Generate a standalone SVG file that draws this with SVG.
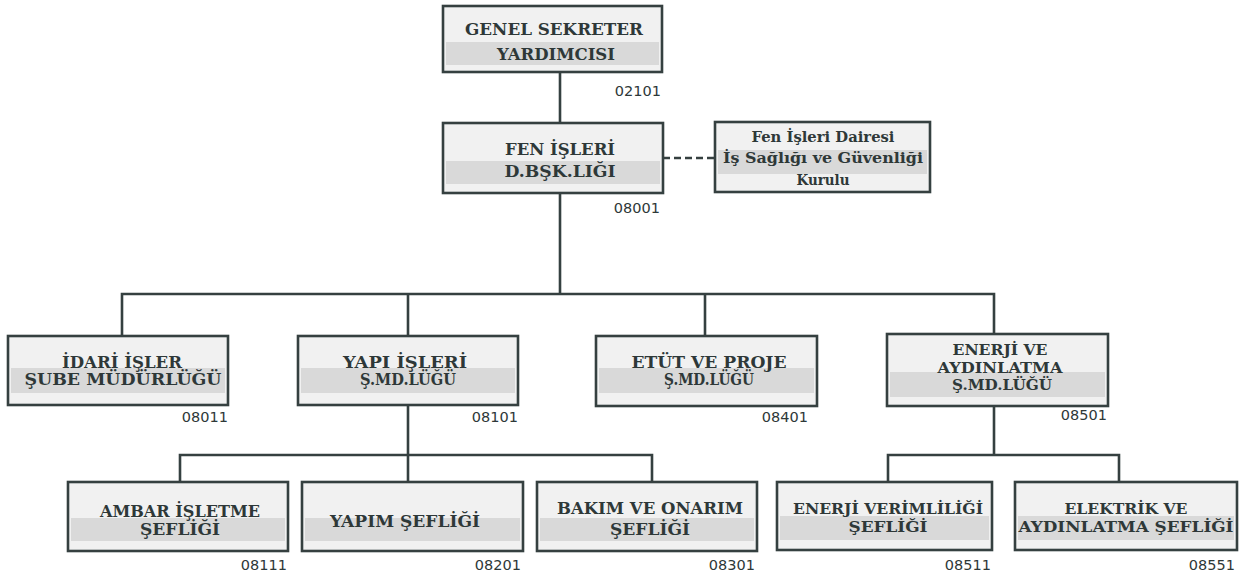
<svg xmlns="http://www.w3.org/2000/svg" width="1244" height="577" viewBox="0 0 1244 577">
<style>
.box{fill:#f1f1f1;stroke:#354040;stroke-width:2.6}
.band{fill:#d9d9d9}
.t{font-family:"DejaVu Serif","Liberation Serif",serif;font-weight:bold;font-size:16px;fill:#2e3838;text-anchor:middle}
.ts{font-family:"DejaVu Serif","Liberation Serif",serif;font-weight:bold;font-size:14.5px;fill:#2e3838;text-anchor:middle}
.code{font-family:"DejaVu Sans","Liberation Sans",sans-serif;font-size:14.5px;fill:#2e3838;text-anchor:end}
.ln{fill:none;stroke:#354040;stroke-width:2.6}
.dash{fill:none;stroke:#354040;stroke-width:2.6;stroke-dasharray:7,4}
</style>
<rect width="1244" height="577" fill="#ffffff"/>
<g id="connectors">
<path class="ln" d="M560 72 V123"/>
<path class="ln" d="M560 193 V294"/>
<path class="dash" d="M663 158 H715"/>
<path class="ln" d="M122 336 V294 H994 V334"/>
<path class="ln" d="M408 294 V336"/>
<path class="ln" d="M705 294 V336"/>
<path class="ln" d="M408 405 V482"/>
<path class="ln" d="M180 482 V455 H652 V482"/>
<path class="ln" d="M994 406 V455"/>
<path class="ln" d="M888 482 V455 H1119 V482"/>
</g>
<g id="n02101">
<rect class="box" x="443" y="6" width="219" height="66"/>
<rect class="band" x="446" y="42" width="213" height="23"/>
<text class="t" x="554" y="35" textLength="178" lengthAdjust="spacingAndGlyphs">GENEL SEKRETER</text>
<text class="t" x="556" y="60" textLength="118" lengthAdjust="spacingAndGlyphs">YARDIMCISI</text>
<text class="code" x="661" y="96">02101</text>
</g>
<g id="n08001">
<rect class="box" x="443" y="123" width="220" height="70"/>
<rect class="band" x="446" y="161" width="214" height="23"/>
<text class="t" x="560" y="155" textLength="110" lengthAdjust="spacingAndGlyphs">FEN İŞLERİ</text>
<text class="t" x="560" y="177" textLength="111" lengthAdjust="spacingAndGlyphs">D.BŞK.LIĞI</text>
<text class="code" x="660" y="213">08001</text>
</g>
<g id="kurul">
<rect class="box" x="715" y="122" width="215" height="70"/>
<rect class="band" x="718" y="150" width="209" height="24"/>
<text class="ts" x="823" y="142" textLength="143" lengthAdjust="spacingAndGlyphs">Fen İşleri Dairesi</text>
<text class="ts" x="823" y="163" textLength="200" lengthAdjust="spacingAndGlyphs">İş Sağlığı ve Güvenliği</text>
<text class="ts" x="823" y="185" textLength="53" lengthAdjust="spacingAndGlyphs">Kurulu</text>
</g>
<g id="n08011">
<rect class="box" x="8" y="336" width="220" height="69"/>
<rect class="band" x="11" y="368" width="214" height="25"/>
<text class="t" x="122" y="368" textLength="120" lengthAdjust="spacingAndGlyphs">İDARİ İŞLER</text>
<text class="t" x="123" y="385" textLength="197" lengthAdjust="spacingAndGlyphs">ŞUBE MÜDÜRLÜĞÜ</text>
<text class="code" x="228" y="422">08011</text>
</g>
<g id="n08101">
<rect class="box" x="298" y="336" width="220" height="69"/>
<rect class="band" x="301" y="368" width="214" height="25"/>
<text class="t" x="405" y="368" textLength="124" lengthAdjust="spacingAndGlyphs">YAPI İŞLERİ</text>
<text class="t" x="408" y="385" textLength="96" lengthAdjust="spacingAndGlyphs">Ş.MD.LÜĞÜ</text>
<text class="code" x="518" y="422">08101</text>
</g>
<g id="n08401">
<rect class="box" x="596" y="336" width="221" height="70"/>
<rect class="band" x="599" y="368" width="215" height="25"/>
<text class="t" x="709" y="368" textLength="155" lengthAdjust="spacingAndGlyphs">ETÜT VE PROJE</text>
<text class="t" x="709" y="385" textLength="90" lengthAdjust="spacingAndGlyphs">Ş.MD.LÜĞÜ</text>
<text class="code" x="808" y="422">08401</text>
</g>
<g id="n08501">
<rect class="box" x="887" y="334" width="221" height="72"/>
<rect class="band" x="890" y="372" width="215" height="25"/>
<text class="ts" x="1000" y="355" textLength="95" lengthAdjust="spacingAndGlyphs">ENERJİ VE</text>
<text class="ts" x="1000" y="373" textLength="125" lengthAdjust="spacingAndGlyphs">AYDINLATMA</text>
<text class="ts" x="1002" y="390" textLength="100" lengthAdjust="spacingAndGlyphs">Ş.MD.LÜĞÜ</text>
<text class="code" x="1107" y="420">08501</text>
</g>
<g id="n08111">
<rect class="box" x="68" y="482" width="220" height="69"/>
<rect class="band" x="71" y="518" width="214" height="23"/>
<text class="t" x="180" y="517" textLength="160" lengthAdjust="spacingAndGlyphs">AMBAR İŞLETME</text>
<text class="t" x="180" y="535" textLength="80" lengthAdjust="spacingAndGlyphs">ŞEFLİĞİ</text>
<text class="code" x="287" y="570">08111</text>
</g>
<g id="n08201">
<rect class="box" x="302" y="482" width="221" height="69"/>
<rect class="band" x="305" y="518" width="215" height="23"/>
<text class="t" x="405" y="527" textLength="150" lengthAdjust="spacingAndGlyphs">YAPIM ŞEFLİĞİ</text>
<text class="code" x="521" y="570">08201</text>
</g>
<g id="n08301">
<rect class="box" x="537" y="482" width="220" height="69"/>
<rect class="band" x="540" y="518" width="214" height="23"/>
<text class="t" x="650" y="514" textLength="186" lengthAdjust="spacingAndGlyphs">BAKIM VE ONARIM</text>
<text class="t" x="650" y="535" textLength="80" lengthAdjust="spacingAndGlyphs">ŞEFLİĞİ</text>
<text class="code" x="755" y="570">08301</text>
</g>
<g id="n08511">
<rect class="box" x="777" y="482" width="215" height="68"/>
<rect class="band" x="780" y="516" width="209" height="24"/>
<text class="ts" x="888" y="514" textLength="190" lengthAdjust="spacingAndGlyphs">ENERJİ VERİMLİLİĞİ</text>
<text class="ts" x="888" y="532" textLength="79" lengthAdjust="spacingAndGlyphs">ŞEFLİĞİ</text>
<text class="code" x="991" y="570">08511</text>
</g>
<g id="n08551">
<rect class="box" x="1015" y="482" width="222" height="68"/>
<rect class="band" x="1018" y="516" width="216" height="24"/>
<text class="ts" x="1126" y="514" textLength="123" lengthAdjust="spacingAndGlyphs">ELEKTRİK VE</text>
<text class="ts" x="1126" y="532" textLength="215" lengthAdjust="spacingAndGlyphs">AYDINLATMA ŞEFLİĞİ</text>
<text class="code" x="1235" y="570">08551</text>
</g>
</svg>
